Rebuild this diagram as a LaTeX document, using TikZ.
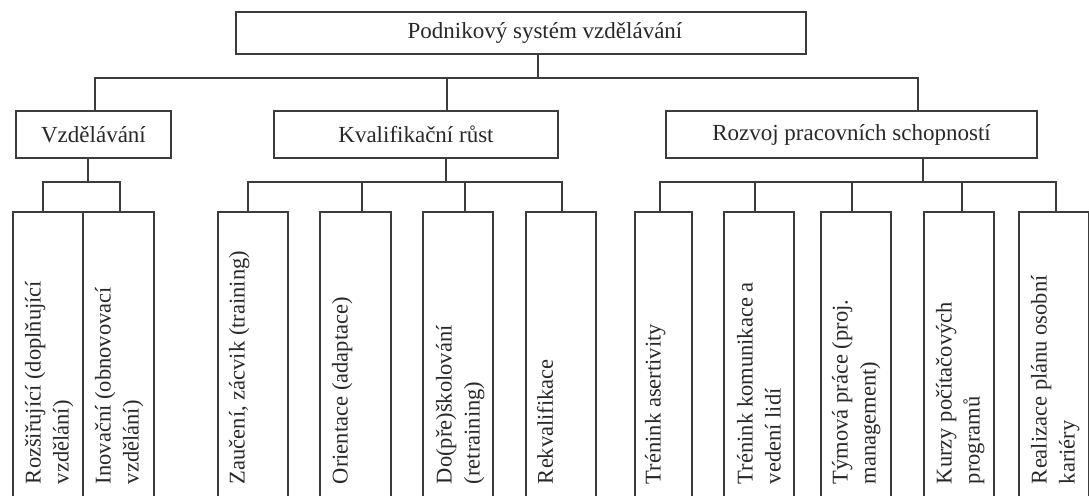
\documentclass[tikz,border=0pt]{standalone}
\usepackage{fontspec}
\setmainfont{Liberation Serif}
\definecolor{ink}{RGB}{60,60,60}
\definecolor{txt}{RGB}{40,40,40}
\begin{document}
\begin{tikzpicture}[x=1pt,y=-1pt,
  box/.style={draw=ink, line width=1.4pt, rectangle, inner sep=0pt, outer sep=0pt,
    font=\fontsize{23}{28}\selectfont, text=txt},
  leaf/.style={draw=ink, line width=1.4pt, rectangle, inner sep=0pt, outer sep=0pt,
    anchor=north west, minimum height=300},
  lbl/.style={inner sep=0pt, font=\fontsize{23}{28}\selectfont, text=txt},
  vtext/.style={rotate=90, anchor=north west, inner sep=0pt, outer sep=0pt, align=left,
    font=\fontsize{22.5}{28}\selectfont, text=txt},
  link/.style={draw=ink, line width=1.4pt}]
\useasboundingbox (0,0) rectangle (1089,495);
\clip (0,0) rectangle (1089,495);
\fill[white] (0,0) rectangle (1089,495);

% top
\node[box, minimum width=570, minimum height=42] (top) at (521,33) {};
\node[lbl] (toplbl) at (545,33) {Podnikový systém vzdělávání};

% level 1
\node[box, minimum width=155, minimum height=47] (vz) at (93.5,134.5) {Vzdělávání};
\node[box, minimum width=284, minimum height=47] (kv) at (416,134.5) {Kvalifikační růst};
\node[box, minimum width=371, minimum height=47] (rz) at (851.5,134.5) {Rozvoj pracovních schopností};

\coordinate (j0) at (538,78);
\coordinate (j1) at (95,78);
\coordinate (j2) at (447,78);
\coordinate (j3) at (918,78);
\draw[link] (top.south -| j0) -- (j0);
\draw[link] (vz.north -| j1) -- (j1) -- (j3) -- (rz.north -| j3);
\draw[link] (j2) -- (kv.north -| j2);

% leaves
\node[leaf, minimum width=70] (l1) at (13,212) {};
\node[leaf, minimum width=71] (l2) at (83,212) {};
\node[leaf, minimum width=70] (l3) at (218,212) {};
\node[leaf, minimum width=71] (l4) at (320,212) {};
\node[leaf, minimum width=70] (l5) at (423,212) {};
\node[leaf, minimum width=70] (l6) at (526,212) {};
\node[leaf, minimum width=57] (l7) at (635,212) {};
\node[leaf, minimum width=70] (l8) at (724,212) {};
\node[leaf, minimum width=70] (l9) at (821,212) {};
\node[leaf, minimum width=70] (l10) at (924,212) {};
\node[leaf, minimum width=70] (l11) at (1019,212) {};

% group Vzdělávání
\coordinate (a0) at (88,182);
\coordinate (a1) at (43,182);
\coordinate (a2) at (120,182);
\draw[link] (vz.south -| a0) -- (a0);
\draw[link] (l1.north -| a1) -- (a1) -- (a2) -- (l2.north -| a2);

% group Kvalifikační růst
\coordinate (b0) at (446,182);
\coordinate (b1) at (248,182);
\coordinate (b2) at (362,182);
\coordinate (b3) at (465,182);
\coordinate (b4) at (562,182);
\draw[link] (kv.south -| b0) -- (b0);
\draw[link] (l3.north -| b1) -- (b1) -- (b4) -- (l6.north -| b4);
\draw[link] (b2) -- (l4.north -| b2);
\draw[link] (b3) -- (l5.north -| b3);

% group Rozvoj
\coordinate (c0) at (923,182);
\coordinate (c1) at (660,182);
\coordinate (c2) at (755,182);
\coordinate (c3) at (852,182);
\coordinate (c4) at (962,182);
\coordinate (c5) at (1056,182);
\draw[link] (rz.south -| c0) -- (c0);
\draw[link] (l7.north -| c1) -- (c1) -- (c5) -- (l11.north -| c5);
\draw[link] (c2) -- (l8.north -| c2);
\draw[link] (c3) -- (l9.north -| c3);
\draw[link] (c4) -- (l10.north -| c4);

% vertical texts
\node[vtext] (t1) at (25,484) {Rozšiřující (doplňující\\vzdělání)};
\node[vtext] (t2) at (95,484) {Inovační (obnovovací\\vzdělání)};
\node[vtext] (t3) at (229,484) {Zaučení, zácvik (training)};
\node[vtext] (t4) at (332,484) {Orientace (adaptace)};
\node[vtext] (t5) at (436,484) {Do(pře)školování\\(retraining)};
\node[vtext] (t6) at (537,484) {Rekvalifikace};
\node[vtext] (t7) at (645,484) {Trénink asertivity};
\node[vtext] (t8) at (737,484) {Trénink komunikace a\\vedení lidí};
\node[vtext] (t9) at (832,484) {Týmová práce (proj.\\management)};
\node[vtext] (t10) at (936,484) {Kurzy počítačových\\programů};
\node[vtext] (t11) at (1031,484) {Realizace plánu osobní\\kariéry};
\end{tikzpicture}
\end{document}
